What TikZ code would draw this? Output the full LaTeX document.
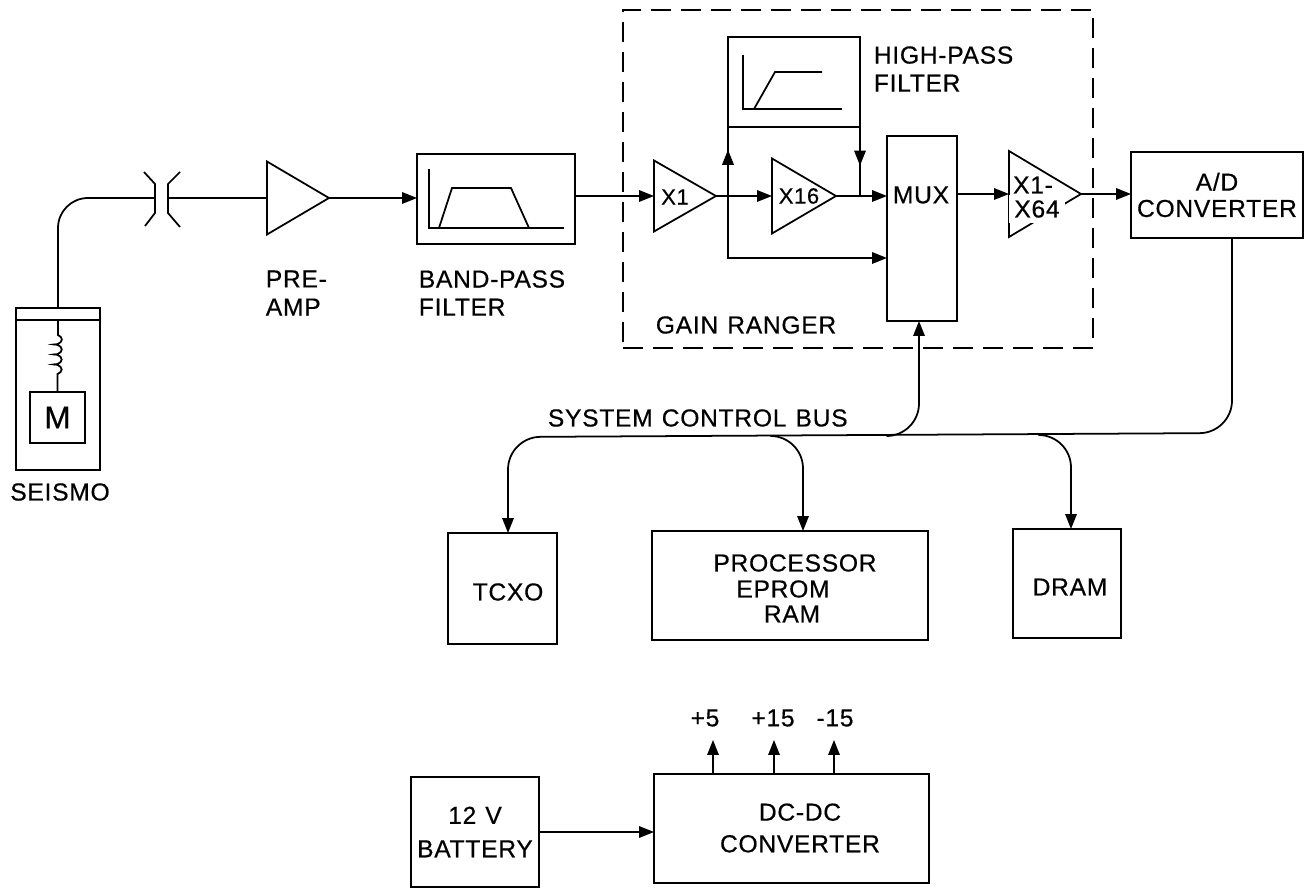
\documentclass[tikz,border=0pt]{standalone}
\usepackage{fontspec}
\setsansfont{Liberation Sans}[LetterSpace=3,WordSpace=1.2,FakeBold=0.5]
\usetikzlibrary{arrows.meta,shapes.geometric,decorations.pathmorphing,decorations.markings}
\begin{document}
\begin{tikzpicture}[
  x=0.02cm,y=-0.02cm,
  font=\sffamily\fontsize{14}{16}\selectfont,
  >={Triangle[length=3mm,width=2.3mm]},
  line width=1pt,
  blk/.style={draw,inner sep=0pt,outer sep=0pt},
  amp/.style={draw,isosceles triangle,isosceles triangle stretches,inner sep=0pt,outer sep=0pt,anchor=lower side},
  lbl/.style={align=center,inner sep=1pt},
  lbll/.style={align=left,anchor=west,inner sep=0pt},
  gainlbl/.style={lbl,font=\sffamily\fontsize{12.5}{14}\selectfont},
  sig/.style={->},
  wire/.style={-},
  bus/.style={rounded corners=0.65cm},
  midtip/.style={postaction={decorate},decoration={markings,mark=at position #1 with {\arrow{>}}}}
]
\useasboundingbox (0,0) rectangle (1309,888);

% sensor
\node[blk,minimum width=1.68cm,minimum height=3.24cm] (seismo) at (58,389) {};
\node[blk,minimum width=1.68cm,minimum height=0.24cm] (cap) at (58,314) {};
\node[blk,minimum width=1.1cm,minimum height=1.02cm] (mass) at (57.5,417.5) {\fontsize{18}{18}\selectfont M};
\draw[decorate,decoration={coil,amplitude=0.08cm,segment length=0.2cm,pre length=0.3cm,post length=0.25cm}] (cap.south) -- (mass.north);
\node[lbl] (seismolbl) at (60,492) {SEISMO};

% connector
\coordinate (jl) at (155,198);
\coordinate (jr) at (168,198);
\draw (144,172) -- (155,184) -- (155,213) -- (145,226);
\draw (180,172) -- (168,184) -- (168,213) -- (180,227);
\draw[wire,rounded corners=0.6cm] (cap.north) |- (jl);

% front end
\node[amp,minimum height=1.24cm,minimum width=1.46cm] (preamp) at (267,198) {};
\node[lbll] (prelbl) at (265,293) {PRE-\\AMP};
\node[blk,minimum width=3.16cm,minimum height=1.8cm] (bpf) at (496,199) {};
\draw (429,169) -- (429,228) -- (564,228);
\draw (439,228) -- (452,188) -- (511,188) -- (529,228);
\node[lbll] (bpflbl) at (418,293) {BAND-PASS\\FILTER};
\draw[wire] (jr) -- (preamp.lower side);
\draw[sig] (preamp.apex) -- (preamp.apex -| bpf.west);

% gain ranger
\node[draw,dash pattern=on 0.4cm off 0.2cm,minimum width=9.4cm,minimum height=6.76cm,inner sep=0pt] (ranger) at (858,179) {};
\node[lbll] (rangerlbl) at (655,325) {GAIN RANGER};
\node[amp,minimum height=1.24cm,minimum width=1.42cm] (xone) at (654,196) {};
\node[gainlbl] (xonelbl) at (675,197) {X1};
\node[amp,minimum height=1.28cm,minimum width=1.5cm] (xsixteen) at (772,196) {};
\node[gainlbl] (xsixteenlbl) at (799,196) {X16};
\node[blk,minimum width=2.64cm,minimum height=1.8cm] (hpf) at (794,82) {};
\draw (743,55) -- (743,109) -- (842,109);
\draw (754,109) -- (775,72) -- (822,72);
\node[lbll] (hpflbl) at (873,69) {HIGH-PASS\\FILTER};
\node[blk,minimum width=1.4cm,minimum height=3.7cm] (mux) at (922,228.5) {};
\node[lbl] (muxlbl) at (921,195) {MUX};
\node[amp,minimum height=1.44cm,minimum width=1.72cm] (xvar) at (1009,194) {};
\node[lbl,fill=white,inner sep=0.1cm] (xvarlblb) at (1037,209) {X64};
\node[lbl] (xvarlbla) at (1033,185) {X1-};
\node[blk,minimum width=3.44cm,minimum height=1.72cm,align=center] (adc) at (1217,195) {A/D\\[-1pt]CONVERTER};

% signal path
\coordinate (jin) at (728,196);
\coordinate (jout) at (860,196);
\coordinate (jlow) at (728,258);
\draw[sig] (bpf.east |- xone.lower side) -- (xone.lower side);
\draw[sig] (xone.apex) -- (xsixteen.lower side);
\draw[sig] (xsixteen.apex) -- (xsixteen.apex -| mux.west);
\draw[wire,midtip=0.67] (jin) -- (hpf.south -| jin);
\draw[wire,midtip=0.56] (hpf.south -| jout) -- (jout);
\draw[sig] (jin) -- (jlow) -- (jlow -| mux.west);
\draw[sig] (mux.east |- xvar.lower side) -- (xvar.lower side);
\draw[sig] (xvar.apex) -- (xvar.apex -| adc.west);

% system bus
\node[lbll] (buslbl) at (547,418) {SYSTEM CONTROL BUS};
\node[blk,minimum width=2.18cm,minimum height=2.22cm] (tcxo) at (502.5,588.5) {};
\node[lbl] (tcxolbl) at (508,592) {TCXO};
\node[blk,minimum width=5.52cm,minimum height=2.18cm] (proc) at (790,585.5) {};
\node[lbl] (proclbla) at (795,563) {PROCESSOR};
\node[lbl] (proclblb) at (783,589) {EPROM};
\node[lbl] (proclblc) at (792,614) {RAM};
\node[blk,minimum width=2.16cm,minimum height=2.18cm] (dram) at (1067,583.5) {};
\node[lbl] (dramlbl) at (1070,587) {DRAM};
\coordinate (adcout) at (1232,238);
\coordinate (busr) at (1232,433);
\coordinate (busl) at (508,437);
\coordinate (tcxoin) at (508,533);
\coordinate (procin) at (803,531);
\coordinate (dramin) at (1071,529);
\coordinate (muxin) at (919,321);
\draw[sig,bus] (adcout) -- (busr) -- (busl) -- (tcxoin);
\draw[sig,bus] (887,436) -| (muxin);
\draw[sig,bus] (771,436) -| (procin);
\draw[sig,bus] (1039,435) -| (dramin);

% power
\node[blk,minimum width=2.56cm,minimum height=2.2cm,align=center] (batt) at (475,832) {12 V\\[3pt]BATTERY};
\node[blk,minimum width=5.5cm,minimum height=2.18cm] (dcdc) at (791.5,828.5) {};
\node[lbl] (dcdclbl) at (800,828) {DC-DC\\[2pt]CONVERTER};
\draw[sig] (batt.east) -- (batt.east -| dcdc.west);
\node[lbl] (pfive) at (705,718) {+5};
\node[lbl] (pfifteen) at (773,718) {+15};
\node[lbl] (mfifteen) at (835,718) {-15};
\coordinate (tpa) at (713,740);
\coordinate (tpb) at (774,740);
\coordinate (tpc) at (834,740);
\draw[sig] (dcdc.north -| tpa) -- (tpa);
\draw[sig] (dcdc.north -| tpb) -- (tpb);
\draw[sig] (dcdc.north -| tpc) -- (tpc);
\end{tikzpicture}
\end{document}
